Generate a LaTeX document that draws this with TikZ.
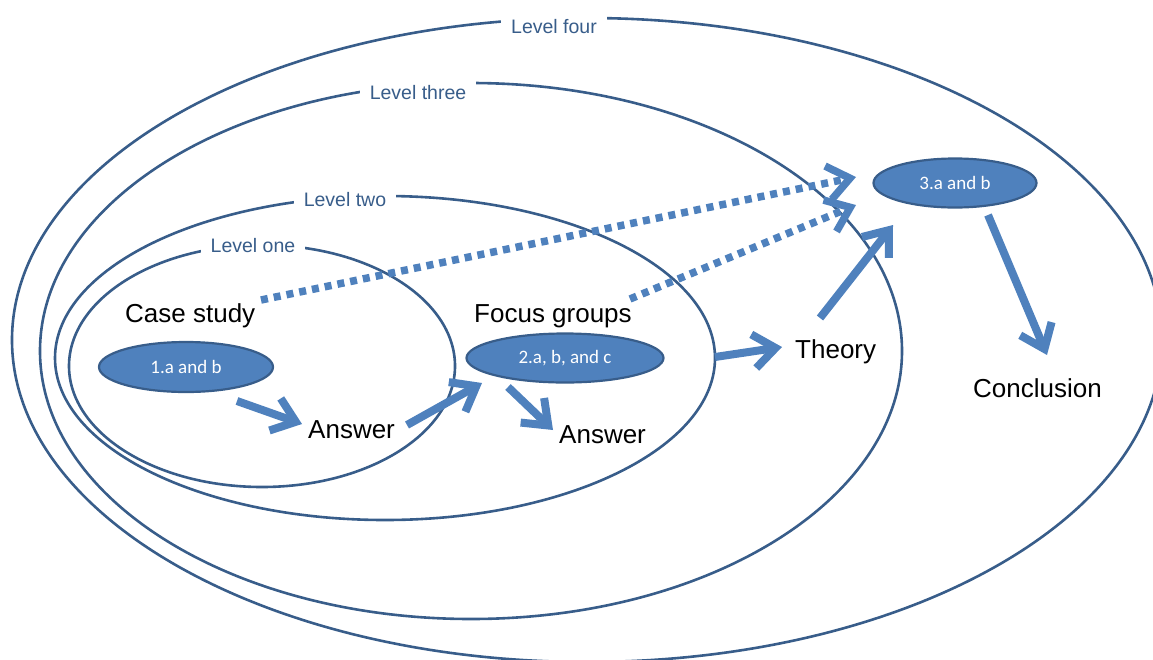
\documentclass[tikz,border=0pt]{standalone}
\usepackage{fontspec}
\setmainfont{Liberation Sans}
\newfontfamily\calibfont{Carlito}
\usetikzlibrary{shapes.geometric,arrows.meta,calc}
\definecolor{ringblue}{HTML}{385D8A}
\definecolor{fillblue}{HTML}{4F81BD}
\begin{document}
\begin{tikzpicture}[x=1pt,y=-1pt,
  ring/.style={ellipse,draw=ringblue,line width=2.6pt,inner sep=0pt},
  ringlabel/.style={fill=white,text=ringblue,font=\fontsize{19.5}{22}\selectfont,
    inner xsep=10pt,inner ysep=6pt,anchor=base},
  stage/.style={ellipse,draw=ringblue,line width=2.2pt,fill=fillblue,text=white,
    font=\calibfont\fontsize{19}{22}\selectfont,inner sep=0pt},
  caption/.style={font=\fontsize{26}{30}\selectfont,inner sep=0pt,anchor=base west},
  flow/.style={draw=fillblue,line width=8pt,-{Straight Barb[length=22pt,width=34pt]}},
  hint/.style={flow,line width=7.5pt,dash pattern=on 7pt off 6pt}
]
\clip (0,0) rectangle (1153,659);

% nested levels
\node[ring,minimum width=1150pt,minimum height=644pt] (L4) at (587,340) {};
\node[ring,minimum width=862pt,minimum height=536pt] (L3) at (471,351) {};
\node[ring,minimum width=660pt,minimum height=324pt] (L2) at (385,358) {};
\node[ring,minimum width=386pt,minimum height=242pt] (L1) at (262,366) {};

% level names set into the outlines
\node[ringlabel] (t4) at (554,33) {Level four};
\node[ringlabel] (t3) at (418,99) {Level three};
\node[ringlabel] (t2) at (345,206) {Level two};
\node[ringlabel] (t1) at (253,252) {Level one};

% research questions
\node[stage,minimum width=174pt,minimum height=50pt] (e1) at (186,367) {1.a and b};
\node[stage,minimum width=197pt,minimum height=49pt] (e2) at (565,358) {2.a, b, and c};
\node[stage,minimum width=163pt,minimum height=49pt] (e3) at (955,183) {3.a and b};

% stage captions
\node[caption] (case) at (125,322) {Case study};
\node[caption] (focus) at (474,322) {Focus groups};
\node[caption] (ans1) at (308,438) {Answer};
\node[caption] (ans2) at (559,443) {Answer};
\node[caption] (theory) at (795,358) {Theory};
\node[caption] (concl) at (973,397) {Conclusion};

% arrow end points, tied to their nodes
\coordinate (a1s) at ($(e1)+(51,34)$);
\coordinate (a1e) at ($(ans1.base west)+(-6,-14)$);
\coordinate (a2s) at ($(ans1.base west)+(99,-13)$);
\coordinate (a2e) at ($(e2)+(-83,25)$);
\coordinate (a3s) at ($(e2)+(-57,29)$);
\coordinate (a3e) at ($(ans2.base west)+(-6,-13)$);
\coordinate (a4s) at ($(theory.base west)+(-80,-1)$);
\coordinate (a4e) at ($(theory.base west)+(-13,-11)$);
\coordinate (a5s) at ($(theory.base west)+(25,-40)$);
\coordinate (a5e) at ($(e3)+(-62,42)$);
\coordinate (a6s) at ($(e3)+(33,32)$);
\coordinate (a6e) at ($(concl.base west)+(74,-42)$);
\coordinate (d1s) at ($(case.base west)+(136,-22)$);
\coordinate (d1e) at ($(e3)+(-99,-6)$);
\coordinate (d2s) at ($(focus.base west)+(156,-23)$);
\coordinate (d2e) at ($(e3)+(-99,22)$);

% flow of the study
\draw[flow] (a1s) -- (a1e);
\draw[flow] (a2s) -- (a2e);
\draw[flow] (a3s) -- (a3e);
\draw[flow] (a4s) -- (a4e);
\draw[flow] (a5s) -- (a5e);
\draw[flow] (a6s) -- (a6e);
\draw[hint] (d1s) -- (d1e);
\draw[hint] (d2s) -- (d2e);
\end{tikzpicture}
\end{document}
